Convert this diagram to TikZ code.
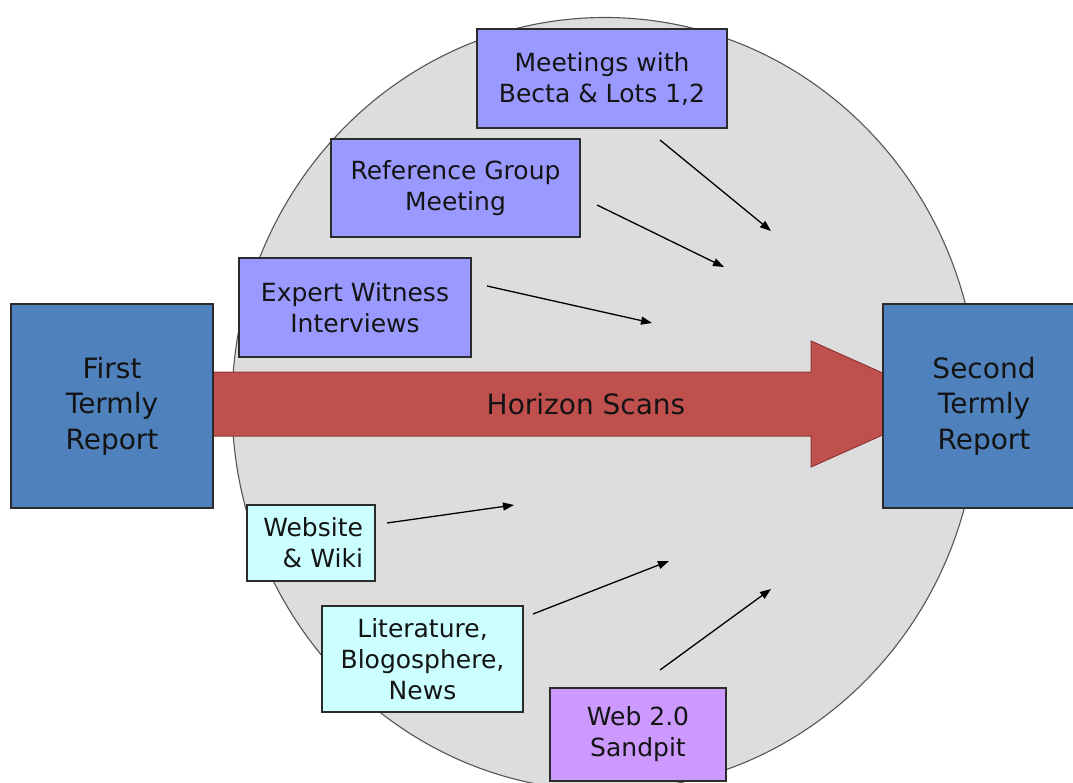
\documentclass[tikz,border=0pt]{standalone}
\usepackage{fontspec}
\setmainfont{DejaVu Sans}
\usetikzlibrary{arrows.meta}
\definecolor{bluebox}{HTML}{4F81BD}
\definecolor{purplebox}{HTML}{9999FF}
\definecolor{cyanbox}{HTML}{CCFFFF}
\definecolor{lavbox}{HTML}{CC99FF}
\definecolor{redarrow}{HTML}{C0504D}
\definecolor{redline}{HTML}{8C3836}
\definecolor{circfill}{HTML}{DDDDDD}
\definecolor{circline}{HTML}{555555}
\definecolor{boxline}{HTML}{2B2B2B}
\definecolor{txt}{HTML}{141414}
\tikzset{
  basebox/.style={draw=boxline, line width=1.1pt, inner sep=0pt, text=txt, align=center},
  smallbox/.style={basebox, font=\fontsize{25}{31}\selectfont},
  bigbox/.style={basebox, fill=bluebox, font=\fontsize{28}{35.5}\selectfont,
    minimum width=202pt, minimum height=204pt},
  conn/.style={draw=black, line width=1.3pt, -{Triangle[length=11pt,width=8pt]}},
}
\begin{document}
\begin{tikzpicture}[x=1pt,y=-1pt]
\fill[white] (0,0) rectangle (1073,783);
\useasboundingbox (0,0) rectangle (1073,783);
% big ellipse
\draw[fill=circfill, draw=circline, line width=1.1pt] (605,404) ellipse [x radius=373pt, y radius=386.5pt];
% horizon arrow
\draw[fill=redarrow, draw=redline, line width=1pt]
  (213,372) -- (811,372) -- (811,341) -- (952,404) -- (811,467) -- (811,436) -- (213,436) -- cycle;
\node[font=\fontsize{28}{34}\selectfont, text=txt] (hs) at (586,404) {Horizon Scans};
% report boxes
\node[bigbox] (first) at (112,406) {First\\Termly\\Report};
\node[bigbox] (second) at (984,406) {Second\\Termly\\Report};
% input boxes
\node[smallbox, fill=purplebox, minimum width=250pt, minimum height=99pt] (meet) at (602,78.5) {Meetings with\\Becta \& Lots 1,2};
\node[smallbox, fill=purplebox, minimum width=249pt, minimum height=98pt] (ref) at (455.5,188) {Reference Group\\Meeting};
\node[smallbox, fill=purplebox, minimum width=232pt, minimum height=99pt] (expert) at (355,307.5) {Expert Witness\\Interviews};
\node[smallbox, fill=cyanbox, minimum width=128pt, minimum height=76pt, text width=104pt, align=right] (web) at (311,543) {Website\\\& Wiki};
\node[smallbox, fill=cyanbox, minimum width=201pt, minimum height=106pt] (lit) at (422.5,659) {Literature,\\Blogosphere,\\News};
\node[smallbox, fill=lavbox, minimum width=176pt, minimum height=93pt] (sand) at (638,734.5) {Web 2.0\\Sandpit};
% connector end points
\coordinate (m1) at (660,140);  \coordinate (m2) at (771,231);
\coordinate (r1) at (597,205);  \coordinate (r2) at (724,267);
\coordinate (e1) at (487,286);  \coordinate (e2) at (652,323);
\coordinate (w1) at (387,523);  \coordinate (w2) at (514,505);
\coordinate (l1) at (533,614);  \coordinate (l2) at (669,561);
\coordinate (s1) at (660,670);  \coordinate (s2) at (771,589);
\draw[conn] (m1) -- (m2);
\draw[conn] (r1) -- (r2);
\draw[conn] (e1) -- (e2);
\draw[conn] (w1) -- (w2);
\draw[conn] (l1) -- (l2);
\draw[conn] (s1) -- (s2);
\end{tikzpicture}
\end{document}
